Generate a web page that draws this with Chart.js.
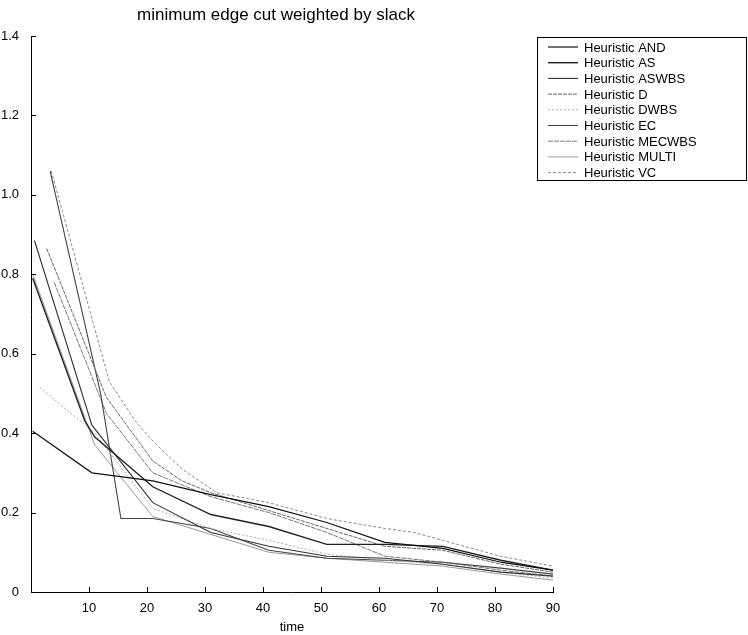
<!DOCTYPE html>
<html>
<head>
<meta charset="utf-8">
<script src="https://cdn.jsdelivr.net/npm/chart.js@4/dist/chart.umd.min.js"></script>
<style>
	body { margin: 0; background: #fff; }
</style>
</head>
<body>
<canvas id="slackChart" width="748" height="635"></canvas>
<script>
// series data as [time, value] pairs
var heuristicAND    = [[0.3,0.405],[10.5,0.30],[21,0.28],[31,0.245],[41,0.215],[51,0.175],[61,0.125],[71,0.11],[81,0.075],[90,0.055]];
var heuristicAS     = [[0.3,0.79],[9.3,0.43],[11,0.39],[21,0.265],[31,0.195],[41,0.165],[51,0.12],[61,0.12],[71,0.115],[81,0.08],[90,0.055]];
var heuristicASWBS  = [[0.6,0.885],[10.5,0.42],[21,0.225],[31,0.15],[41,0.115],[51,0.09],[61,0.085],[71,0.07],[81,0.05],[90,0.04]];
var heuristicD      = [[2.7,0.865],[13,0.49],[21,0.33],[26,0.28],[31,0.25],[41,0.205],[51,0.16],[61,0.115],[71,0.105],[81,0.07],[90,0.05]];
var heuristicDWBS   = [[1.5,0.515],[11,0.40],[21,0.21],[31,0.16],[41,0.13],[51,0.095],[61,0.08],[71,0.07],[81,0.05],[90,0.035]];
var heuristicEC     = [[3.3,1.06],[12,0.50],[15.5,0.185],[21,0.185],[31,0.16],[41,0.105],[51,0.085],[61,0.08],[71,0.075],[81,0.06],[90,0.045]];
var heuristicMECWBS = [[4,0.78],[13,0.45],[21,0.30],[31,0.24],[41,0.20],[51,0.15],[61,0.09],[71,0.075],[81,0.055],[90,0.04]];
var heuristicMULTI  = [[0.3,0.80],[11,0.37],[21,0.19],[31,0.145],[41,0.10],[51,0.085],[61,0.075],[71,0.065],[81,0.045],[90,0.03]];
var heuristicVC     = [[3.5,1.06],[13.5,0.53],[18,0.43],[21,0.38],[26,0.31],[32,0.25],[41,0.225],[51,0.185],[61,0.16],[66,0.15],[81,0.09],[90,0.065]];

var seriesNames = ['Heuristic AND','Heuristic AS','Heuristic ASWBS','Heuristic D','Heuristic DWBS','Heuristic EC','Heuristic MECWBS','Heuristic MULTI','Heuristic VC'];
var seriesData = [heuristicAND, heuristicAS, heuristicASWBS, heuristicD, heuristicDWBS, heuristicEC, heuristicMECWBS, heuristicMULTI, heuristicVC];
var xTicks = [10,20,30,40,50,60,70,80,90];
var yTicks = [0,0.2,0.4,0.6,0.8,1,1.2,1.4];
var chartTitle = 'minimum edge cut weighted by slack';

var lineColors = ['#111','#222','#333','#666','#aaa','#444','#777','#999','#888'];
var lineDashes = [[],[],[],[4,1],[2,2],[],[5,1],[],[3,2]];
var lineWidths = [1.2,1.4,1.1,1,1,1.1,1,1,1];
var fontFamily = '"Liberation Sans", Arial, Helvetica, sans-serif';

var datasets = [];
for (var i = 0; i < seriesData.length; i++) {
	datasets.push({
		label: seriesNames[i],
		data: seriesData[i].map(function(p) { return { x: p[0], y: p[1] }; }),
		borderColor: lineColors[i],
		borderDash: lineDashes[i],
		borderWidth: lineWidths[i],
		pointRadius: 0,
		tension: 0,
		fill: false
	});
}

// title, inward tick marks and boxed legend drawn like the original figure
var figurePlugin = {
	id: 'figurePlugin',
	afterDraw: function(chart) {
		var ctx = chart.ctx;
		var xs = chart.scales.x, ys = chart.scales.y;
		var area = chart.chartArea;
		ctx.save();
		ctx.fillStyle = '#000';
		ctx.font = '17px ' + fontFamily;
		ctx.textAlign = 'center';
		ctx.textBaseline = 'middle';
		ctx.fillText(chartTitle, 276, 15);

		ctx.strokeStyle = '#000';
		ctx.lineWidth = 1;
		ctx.beginPath();
		xTicks.forEach(function(t) {
			var px = Math.round(xs.getPixelForValue(t)) + 0.5;
			ctx.moveTo(px, area.bottom);
			ctx.lineTo(px, area.bottom - 5);
		});
		yTicks.forEach(function(t) {
			var py = Math.round(ys.getPixelForValue(t)) + 0.5;
			ctx.moveTo(area.left, py);
			ctx.lineTo(area.left + 5, py);
		});
		ctx.stroke();

		// legend box
		var bx = 537.5, by = 37.5, bw = 209, bh = 143;
		ctx.fillStyle = '#fff';
		ctx.fillRect(bx, by, bw, bh);
		ctx.strokeRect(bx, by, bw, bh);
		ctx.font = '13px ' + fontFamily;
		ctx.textAlign = 'left';
		for (var i = 0; i < seriesNames.length; i++) {
			var ly = 47 + i * 15.7;
			ctx.beginPath();
			ctx.strokeStyle = lineColors[i];
			ctx.lineWidth = lineWidths[i];
			ctx.setLineDash(lineDashes[i]);
			ctx.moveTo(548, ly);
			ctx.lineTo(578, ly);
			ctx.stroke();
			ctx.setLineDash([]);
			ctx.fillStyle = '#000';
			ctx.fillText(seriesNames[i], 584, ly + 1);
		}
		ctx.restore();
	}
};

var ctx = document.getElementById('slackChart').getContext('2d');
var slackChart = new Chart(ctx, {
	type: 'line',
	data: { datasets: datasets },
	plugins: [figurePlugin],
	options: {
		responsive: false,
		animation: false,
		layout: { padding: { top: 36, right: 195, left: 0, bottom: 0 } },
		plugins: {
			legend: { display: false },
			title: { display: false },
			tooltip: { enabled: false }
		},
		scales: {
			x: {
				type: 'linear',
				min: 0,
				max: 90,
				afterBuildTicks: function(scale) {
					scale.ticks = xTicks.map(function(v) { return { value: v }; });
				},
				afterFit: function(scale) { scale.height = 43; },
				grid: { display: false },
				border: { display: true, color: '#000', width: 1 },
				ticks: { color: '#000', font: { size: 13, family: fontFamily }, padding: 1, maxRotation: 0 },
				title: { display: true, text: 'time', color: '#000', font: { size: 13, family: fontFamily }, padding: 0 }
			},
			y: {
				min: 0,
				max: 1.4,
				afterBuildTicks: function(scale) {
					scale.ticks = yTicks.map(function(v) { return { value: v }; });
				},
				afterFit: function(scale) { scale.width = 31; },
				grid: { display: false },
				border: { display: true, color: '#000', width: 1 },
				ticks: { color: '#000', font: { size: 13, family: fontFamily }, padding: 4 }
			}
		}
	}
});
</script>
</body>
</html>
